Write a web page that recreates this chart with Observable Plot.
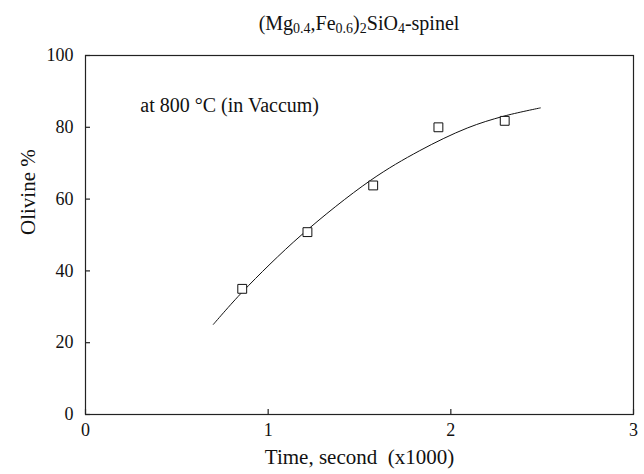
<!DOCTYPE html>
<html>
<head>
<meta charset="utf-8">
<script src="https://cdn.jsdelivr.net/npm/d3@7"></script>
<script src="https://cdn.jsdelivr.net/npm/@observablehq/plot@0.6"></script>
<style>
  html, body { margin: 0; padding: 0; background: #fff; }
  #wrap { position: relative; width: 644px; height: 474px; }
  #title { position: absolute; left: 0; top: 12px; width: 644px; padding-left: 74px; box-sizing: border-box;
           text-align: center; font-family: "Liberation Serif", "DejaVu Serif", "Noto Serif", "Times New Roman", serif; font-size: 20px; color: #111; }
  #title sub { font-size: 14px; vertical-align: -3px; line-height: 0; }
  svg text { font-family: "Liberation Serif", "DejaVu Serif", "Noto Serif", "Times New Roman", serif !important; }
</style>
</head>
<body>
<div id="wrap">
  <div id="title">(Mg<sub>0.4</sub>,Fe<sub>0.6</sub>)<sub>2</sub>SiO<sub>4</sub>-spinel</div>
</div>
<script>
// Measured data points (time x1000 s, olivine %)
const timeK = [0.858, 1.215, 1.575, 1.932, 2.295];
const olivine = [35.0, 50.8, 63.8, 80.0, 81.8];

// Fitted curve
const curveTime = [0.70, 0.86, 1.18, 1.56, 1.83, 2.09, 2.29, 2.49];
const curveOlivine = [25.1, 34.2, 49.9, 65.2, 73.5, 79.8, 83.1, 85.4];

const xTicks = [0, 1, 2, 3];
const yTicks = [0, 20, 40, 60, 80, 100];
const xLabel = ["Time, second  (x1000)"];
const yLabel = ["Olivine %"];
const annotation = ["at 800 °C (in Vaccum)"];
const annotationPos = [{x: 0.30, y: 86}];

const points = timeK.map((t, i) => ({t, v: olivine[i]}));
const curve = curveTime.map((t, i) => ({t, v: curveOlivine[i]}));
const notes = annotation.map((s, i) => ({s, ...annotationPos[i]}));

const W = 644, H = 474, ML = 85, MR = 11, MT = 55, MB = 60;
const fw = W - ML - MR, fh = H - MT - MB, tick = 5;

const chart = Plot.plot({
  width: W,
  height: H,
  marginLeft: ML,
  marginRight: MR,
  marginTop: MT,
  marginBottom: MB,
  style: {fontFamily: "'Liberation Serif', 'DejaVu Serif', serif", fontSize: "18px", color: "#111", background: "#fff"},
  x: {domain: [0, 3]},
  y: {domain: [0, 100]},
  marks: [
    Plot.frame({stroke: "#222", strokeWidth: 1.2}),
    // inward ticks
    Plot.ruleX(xTicks, {x: d => d, insetTop: fh - tick, stroke: "#222", strokeWidth: 1.2}),
    Plot.ruleY(yTicks, {y: d => d, insetRight: fw - tick, stroke: "#222", strokeWidth: 1.2}),
    // tick labels
    Plot.axisX({ticks: xTicks, tickSize: 0, tickPadding: 9, tickFormat: d3.format("d"), label: null}),
    Plot.axisY({ticks: yTicks, tickSize: 0, tickPadding: 12, tickFormat: d3.format("d"), label: null}),
    // axis titles
    Plot.text(xLabel, {frameAnchor: "bottom", dy: 49, fontSize: 21, fill: "#111"}),
    Plot.text(yLabel, {frameAnchor: "left", dx: -57, rotate: -90, fontSize: 21, fill: "#111"}),
    Plot.line(curve, {x: "t", y: "v", curve: "catmull-rom", stroke: "#111", strokeWidth: 1}),
    Plot.dot(points, {x: "t", y: "v", symbol: "square", r: 5, stroke: "#111", fill: "#fff", strokeWidth: 1}),
    Plot.text(notes, {x: "x", y: "y", text: "s", textAnchor: "start", fontSize: 20, fill: "#111"})
  ]
});
document.getElementById("wrap").prepend(chart);
</script>
</body>
</html>
